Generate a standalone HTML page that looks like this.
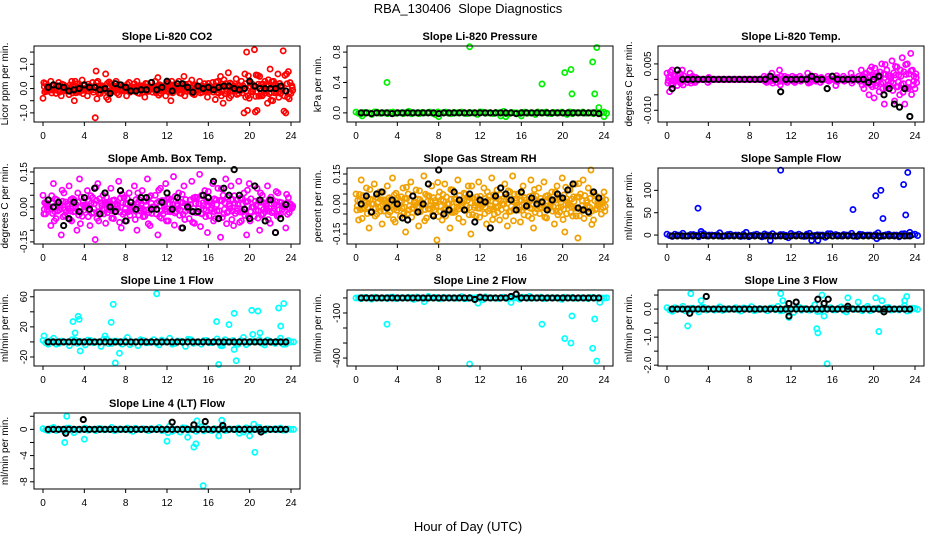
<!DOCTYPE html>
<html><head><meta charset="utf-8">
<style>
html,body{margin:0;padding:0;background:#fff;}
svg{display:block;font-family:"Liberation Sans",sans-serif;}
</style></head>
<body>
<svg id="chart" width="936" height="540" viewBox="0 0 936 540">
<text x="468" y="13" text-anchor="middle" font-size="13">RBA_130406&#160; Slope Diagnostics</text>
<text x="468" y="531" text-anchor="middle" font-size="13">Hour of Day (UTC)</text>
</svg>
<script>
// ---- data ----
const xTicks = [0,4,8,12,16,20,24];
const co2Color = [-0.4,0.2,-0.1,0.3,0.1,-0.2,0.25,-0.3,0.15,0.05,-0.25,0.3,-0.5,0.2,-0.15,0.35,0.0,-0.3,0.1,0.25,-1.2,0.3,-0.2,0.1,0.6,-0.45,0.2,-0.1,0.3,-0.25,0.15,0.05,-0.3,0.25,-0.1,0.2,0.3,-0.2,0.1,-0.35,0.2,0.05,-0.15,0.3,0.45,-0.2,0.1,-0.3,0.25,-0.5,0.15,0.0,0.3,-0.2,0.5,-0.1,0.2,0.35,-0.25,0.1,0.3,-0.15,0.2,-0.35,0.1,0.25,-0.45,0.3,0.5,-0.6,0.2,0.65,-0.3,0.1,0.4,-0.2,0.3,-1.0,1.5,-0.4,0.2,1.6,-0.9,0.5,-0.3,0.3,-0.6,0.8,-0.5,0.2,0.6,-0.2,1.55,-1.0,0.7,-0.2];
const co2Black = [0.05,0.15,0.1,0.05,-0.1,-0.05,0.0,0.15,0.05,0.05,-0.05,0.0,-0.2,0.2,0.15,0.05,-0.1,-0.1,-0.05,-0.05,0.25,-0.05,0.05,0.3,-0.1,0.2,0.2,0.05,-0.15,0.1,0.0,0.05,-0.05,0.05,0.1,0.1,0.0,-0.05,0.0,0.3,0.1,0.0,0.0,0.0,0.0,0.1,-0.1];

const presColor = [0.01,-0.01,0.0,-0.02,0.01,0.0,-0.01,0.01,0.0,-0.01,0.02,0.0,-0.01,0.0,0.01,-0.02,0.0,0.01,-0.01,0.0,0.01,-0.01,0.0,-0.02,0.01,0.0,-0.01,0.0,0.02,-0.01,0.0,-0.01,0.01,0.0,-0.02,0.0,0.01,-0.01,0.0,0.01,-0.02,-0.01,0.0,0.01,0.0,-0.01,0.0,0.01];
const presOutX = [3,11,14,18,20.2,20.8,20.9,22.9,23.1,23.3,23.5,24,8,14.5,16,0.6];
const presOutY = [0.4,0.87,-0.04,0.38,0.53,0.57,0.25,0.67,0.25,0.86,0.07,-0.05,-0.05,-0.05,-0.04,-0.04];
const presBlack = [0,0,-0.01,0,0,0,-0.01,0,0,0,0,0,0,0,0,-0.01,0,0,0,0,0,0,0,0,0,0,0,0,0,0,-0.01,0,0,0,0,0,0,0,0,0,0,0,0,0,0,0,-0.01];

const tempColor = [0.002,-0.004,0.003,0.001,-0.002,0.002,0.003,0.0,-0.001,0.002,0.001,-0.001,0.0,0.0,0.0,0.0,-0.001,0.0,0.0,0.0,0.0,0.0,0.0,0.0,0.0,0.0,0.0,0.0,0.0,0.0,0.0,0.0,0.0,0.0,0.0,0.0,0.0,0.0,0.001,-0.001,0.001,0.002,0.0,-0.001,0.003,0.0,0.001,-0.001,0.0,0.001,-0.001,0.0,0.001,0.0,0.0,0.002,-0.001,0.0,0.001,0.0,-0.001,0.0,0.0,0.001,0.0,0.0,-0.002,0.0,0.0,0.001,0.0,0.0,0.002,0.0,0.0,0.001,0.003,-0.003,0.002,-0.005,0.004,-0.006,0.002,-0.004,0.005,-0.008,0.003,-0.002,0.006,-0.007,0.004,-0.005,0.007,-0.008,0.005,-0.014,0.003,-0.003];
const tempBlack = [-0.003,0.003,0.0,0.0,0.0,0.0,0.0,0.0,0.0,0.0,0.0,0.0,0.0,0.0,0.0,0.0,0.0,0.0,0.0,0.001,0.0,-0.004,0.0,0.0,0.0,0.0,0.0,0.001,0.0,0.0,-0.003,0.001,0.0,0.0,0.0,0.0,0.0,0.0,-0.001,0.0,0.001,-0.005,-0.003,-0.008,-0.009,-0.003,-0.012];

const ambColor = [0.05,-0.03,0.0,-0.08,0.1,-0.05,0.02,-0.12,0.06,-0.02,0.09,-0.06,0.03,-0.1,0.12,-0.04,0.0,0.07,-0.08,0.04,-0.14,0.1,-0.03,0.05,-0.07,0.02,0.08,-0.05,-0.02,0.11,-0.09,0.04,-0.06,0.06,-0.01,0.09,-0.1,0.03,0.07,-0.04,0.12,-0.08,0.0,0.05,-0.12,0.08,-0.03,0.1,-0.06,0.03,0.13,-0.02,0.06,-0.09,0.09,0.01,-0.05,0.11,-0.07,0.04,0.14,-0.03,0.07,-0.11,0.02,0.1,-0.05,0.08,-0.13,0.05,0.12,-0.02,0.09,-0.08,0.03,0.11,-0.06,0.06,-0.12,0.1,0.0,-0.04,0.08,-0.1,0.05,-0.02,0.09,-0.07,0.03,-0.11,0.06,-0.03,0.0,-0.09,0.04,0.01];
const ambBlack = [0.03,0.0,0.02,-0.08,-0.05,0.02,-0.02,0.04,-0.01,0.08,-0.03,0.06,0.0,-0.02,0.07,-0.06,0.02,-0.01,0.04,0.04,-0.01,-0.01,0.02,0.06,-0.01,0.04,-0.09,0.0,-0.02,-0.02,0.05,0.04,0.11,-0.05,0.08,0.05,0.16,0.05,-0.01,-0.05,0.09,0.03,-0.06,0.03,-0.11,-0.05,0.01];

const rhColor = [0.05,-0.08,0.12,-0.02,0.08,-0.12,0.0,0.1,-0.05,0.06,-0.1,0.02,0.09,-0.04,0.13,-0.09,0.03,-0.06,0.08,-0.14,0.05,0.11,-0.02,0.07,-0.11,0.01,0.14,-0.07,0.04,0.09,-0.03,-0.18,0.06,-0.08,0.1,0.0,-0.12,0.07,-0.04,0.12,0.02,-0.09,0.05,0.09,-0.15,0.03,-0.06,0.11,-0.01,0.08,-0.1,0.04,0.13,-0.05,0.07,-0.08,0.0,0.1,-0.11,0.06,0.14,-0.03,0.05,-0.09,0.09,0.02,-0.06,0.12,-0.12,0.04,0.08,-0.02,0.11,-0.07,0.03,0.06,-0.1,0.09,-0.04,0.13,-0.14,0.01,0.07,-0.06,0.1,-0.17,0.05,0.12,-0.03,0.08,0.17,-0.08,0.04,0.0,-0.05,0.06];
const rhBlack = [0.0,0.04,-0.04,0.05,0.06,-0.02,0.02,0.0,-0.07,-0.08,0.04,-0.04,0.0,0.1,-0.06,0.17,-0.05,-0.03,0.06,0.02,-0.03,0.05,-0.09,0.02,0.01,-0.12,0.04,0.08,0.05,0.02,-0.03,0.06,-0.01,0.03,0.0,0.01,-0.03,0.02,0.05,0.03,0.07,0.1,-0.02,-0.03,-0.04,0.06,0.03];

const sampColor = [2,-3,0,4,-2,1,-4,3,0,-1,5,-2,2,0,-3,6,-1,2,-4,0,3,-2,1,-6,0,2,-3,4,-1,0,-5,3,1,-2,0,4,-3,1,0,-2,5,-1,2,0,-4,3,-1,2];
const sampOutX = [3,11,18,20.2,20.7,20.9,22.9,23.1,23.3,20.3,10,14,14.6,3.3,23.5];
const sampOutY = [60,145,57,88,100,37,113,45,140,-8,-12,-12,-12,8,6];
const sampBlack = [-2,-2,-2,-2,-2,-2,-1,-2,-2,-2,-2,-2,-2,-2,-2,-2,-2,-2,-2,-2,-2,-2,-3,-2,-2,-2,-2,-2,-2,-2,-2,-2,-2,-2,-2,-2,-2,-2,-2,-2,-2,-2,-2,-2,-2,-2,-2];

const l1Color = [2,-3,5,-2,0,-5,3,1,-4,2,0,-6,4,-2,1,-3,6,0,-5,2,-1,3,-4,0,5,-2,1,-6,3,0,-3,2,-1,4,-5,0,2,-3,6,-1,0,3,-4,1,-2,5,-3,0];
const l1OutX = [2.9,3.1,3.4,3.5,3.6,6.6,6.8,7,7.4,11,16.8,17,17.2,18,18.5,18.7,18.5,20.2,20.3,20.8,21,22.8,23,23.3,6,0.1];
const l1OutY = [27,12,34,30,-12,26,50,-28,-15,64,27,-30,-5,23,38,-25,-10,42,10,41,12,45,21,51,8,8];
const l1Black = [0,0,0,0,0,0,0,0,0,0,0,0,0,0,0,0,0,0,0,0,0,0,0,0,0,0,0,0,0,0,0,0,0,0,0,0,0,0,0,0,0,0,0,0,0,0,0];

const l2Color = [0,-5,3,-8,2,0,-4,6,-2,0,5,-10,1,-3,0,4,-6,2,0,-2,8,-5,0,3,-12,1,0,-4,5,-2,0,-8,3,0,-1,6,-3,0,2,-9,0,4,-2,0,-5,3,0,-1];
const l2OutX = [3,11,18,20.2,20.8,20.9,22.9,23.1,23.3,23.6,15,7,3.3,6.6,16.8,11.8];
const l2OutY = [-175,-440,-175,-270,-300,-120,-335,-140,-420,-30,-30,10,5,-25,10,-35];
const l2Black = [0,0,0,0,0,0,0,0,0,0,0,0,0,0,0,0,0,0,0,0,0,0,-10,5,0,0,0,0,0,10,25,0,0,0,0,0,0,0,0,0,0,0,0,0,0,0,0];

const l3Color = [0.05,-0.08,0.0,0.1,-0.05,0.03,-0.1,0.06,0.0,-0.04,0.08,-0.02,0.0,0.05,-0.07,0.02,0.09,-0.03,0.0,-0.06,0.04,0.1,-0.05,0.0,-0.12,0.07,0.02,-0.04,0.15,-0.08,0.0,0.05,-0.03,0.08,-0.1,0.02,0.0,-0.06,0.1,-0.02,0.04,-0.08,0.06,0.0,-0.03,0.12,-0.05,0.02];
const l3OutX = [2.3,2,3.3,11,11.2,12.5,14.5,14.6,15,15.5,17.5,20.2,20.5,20.8,23.2,23,11.8,15.2,18.5];
const l3OutY = [0.55,-0.6,0.3,0.55,0.3,0.25,-0.7,-0.85,0.5,-1.95,0.4,0.4,-0.8,0.3,0.45,0.3,-0.3,-0.25,0.25];
const l3BlackX = [3.8,2.2,11.8,11.8,14.6,15.2,15.6,17.5,21,12.5];
const l3BlackY = [0.45,-0.15,0.2,-0.25,0.35,0.2,0.35,0.1,-0.1,0.25];
const l3Black = [0,0,0,0,0,0,0,0,0,0,0,0,0,0,0,0,0,0,0,0,0,0,0,0,0,0,0,0,0,0,0,0,0,0,0,0,0,0,0,0,0,0,0,0,0,0,0];

const l4Color = [0.1,-0.2,0.3,0.0,-0.3,0.2,0.0,-0.1,0.2,0.0,-0.2,0.1,0.0,0.3,-0.1,0.0,0.2,-0.3,0.0,0.1,-0.2,0.0,0.3,-0.1,0.5,0.0,-0.4,0.2,0.0,-0.3,0.4,0.1,-0.2,0.0,0.3,-0.1,0.0,0.2,-0.4,0.1,0.0,0.3,-0.2,0.0,0.1,0.2,-0.1,0.0];
const l4OutX = [2.3,2.1,4,3,12,14,14.6,14.8,15.5,14.9,17,17.3,20,20.5,20.4,19,12.1];
const l4OutY = [2,-2,-1.5,-0.5,-1.8,-1.2,-2.7,-2.2,-8.6,1.3,-1,1.4,-1,-3.5,0.8,-0.6,-0.5];
const l4BlackX = [2.2,3.9,12.5,14.6,15.7,17.4,21.1];
const l4BlackY = [-0.6,1.5,1.1,0.7,1.2,0.6,-0.4];
const l4Black = [0,0,0,0,0,0,0,0,0,0,0,0,0,0,0,0,0,0,0,0,0,0,0,0,0,0,0,0,0,0,0,0,0,0,0,0,0,0,0,0,0,0,0,0,0,0,0];

// ---- drawing ----
const NS = 'http://www.w3.org/2000/svg';
const svg = document.getElementById('chart');
function mk(tag, attrs, parent){ const e=document.createElementNS(NS,tag); for(const k in attrs) e.setAttribute(k,attrs[k]); (parent||svg).appendChild(e); return e; }

function panel(p){
  const L=p.L, T=p.T, W=266, H=76;
  const g = mk('g',{});
  
  
  const xs = v => L + 9 + v*(248/24);
  const ys = v => T + H - (v - p.ymin)/(p.ymax - p.ymin)*H;
  const t = mk('text',{x:L+W/2,y:T-6,'text-anchor':'middle','font-size':'11','font-weight':'bold'},g);
  t.textContent = p.title;
  
  
  xTicks.forEach(v=>{
    mk('line',{x1:xs(v),x2:xs(v),y1:T+H,y2:T+H+4,stroke:'#000','stroke-width':1},g);
    const tx = mk('text',{x:xs(v),y:T+H+17,'text-anchor':'middle','font-size':'10'},g);
    tx.textContent = v;
    
    
  });
  mk('line',{x1:xs(0),x2:xs(24),y1:T+H,y2:T+H,stroke:'#000'},g);
  p.yticks.forEach((v,i)=>{
    mk('line',{x1:L-4,x2:L,y1:ys(v),y2:ys(v),stroke:'#000'},g);
    if(p.ylabels[i]!==''){
      const ty = mk('text',{x:L-7,y:ys(v),'text-anchor':'middle','font-size':'10',transform:`rotate(-90 ${L-7} ${ys(v)})`},g);
      ty.textContent = p.ylabels[i];
      
      
    }
  });
  mk('line',{x1:L,x2:L,y1:ys(p.yticks[0]),y2:ys(p.yticks[p.yticks.length-1]),stroke:'#000'},g);
  const yt = mk('text',{x:L-26,y:T+H/2,'text-anchor':'middle','font-size':'10',transform:`rotate(-90 ${L-26} ${T+H/2})`},g);
  yt.textContent = p.ylab;
  
  
  function dot(x,y,c,w){
    if(y>p.ymax||y<p.ymin) return;
    const d = mk('circle',{cx:xs(x),cy:ys(y),r:2.6,fill:'none',stroke:c,'stroke-width':w},g);
    
    
  }
  const n = p.color.length, st = 24/(n-1);
  p.color.forEach((v,i)=>{
    dot(i*st, v, p.c, 1.7);
    if(p.dense){
      dot(i*st+st*0.33, -v*0.6, p.c, 1.7);
      dot(i*st+st*0.66, v*0.35, p.c, 1.7);
      dot(i*st+st*0.5, -v*0.2, p.c, 1.7);
    } else {
      dot(i*st+st/2, -v*0.6, p.c, 1.7);
    }
  });
  (p.outX||[]).forEach((x,i)=>dot(x,p.outY[i],p.c,1.7));
  p.black.forEach((v,i)=>dot((i+1)*0.5, v, '#000', 2));
  (p.bx||[]).forEach((x,i)=>dot(x,p.by[i],'#000',2));
  const box = mk('rect',{x:L,y:T,width:W,height:H,fill:'none',stroke:'#000','stroke-width':1},g);
  
  
}

const C1=34,C2=347,C3=658,R1=46,R2=168,R3=290,R4=413;
panel({name:'panel-co2',title:'Slope Li-820 CO2',L:C1,T:R1,ymin:-1.375,ymax:1.75,yticks:[-1,-0.5,0,0.5,1,1.5],ylabels:['-1.0','','0.0','','1.0',''],ylab:'Licor ppm per min.',c:'#ff0000',dense:true,color:co2Color,black:co2Black});
panel({name:'panel-pressure',title:'Slope Li-820 Pressure',L:C2,T:R1,ymin:-0.12,ymax:0.88,yticks:[0,0.2,0.4,0.6,0.8],ylabels:['0.0','','0.4','','0.8'],ylab:'kPa per min.',c:'#00ee00',color:presColor,outX:presOutX,outY:presOutY,black:presBlack});
panel({name:'panel-li820-temp',title:'Slope Li-820 Temp.',L:C3,T:R1,ymin:-0.0138,ymax:0.0108,yticks:[-0.01,-0.005,0,0.005],ylabels:['-0.010','','','0.005'],ylab:'degrees C per min.',c:'#ff00ff',dense:true,color:tempColor,black:tempBlack});
panel({name:'panel-amb-box-temp',title:'Slope Amb. Box Temp.',L:C1,T:R2,ymin:-0.159,ymax:0.167,yticks:[-0.15,-0.1,-0.05,0,0.05,0.1,0.15],ylabels:['-0.15','','','0.00','','','0.15'],ylab:'degrees C per min.',c:'#ff00ff',dense:true,color:ambColor,black:ambBlack});
panel({name:'panel-gas-stream-rh',title:'Slope Gas Stream RH',L:C2,T:R2,ymin:-0.2,ymax:0.18,yticks:[-0.15,-0.1,-0.05,0,0.05,0.1,0.15],ylabels:['-0.15','','','0.00','','','0.15'],ylab:'percent per min.',c:'#f0a000',dense:true,color:rhColor,black:rhBlack});
panel({name:'panel-sample-flow',title:'Slope Sample Flow',L:C3,T:R2,ymin:-20,ymax:150,yticks:[0,50,100],ylabels:['0','50','100'],ylab:'ml/min per min.',c:'#0000ff',color:sampColor,outX:sampOutX,outY:sampOutY,black:sampBlack});
panel({name:'panel-line1-flow',title:'Slope Line 1 Flow',L:C1,T:R3,ymin:-32,ymax:69,yticks:[-20,0,20,40,60],ylabels:['-20','','20','','60'],ylab:'ml/min per min.',c:'#00ffff',color:l1Color,outX:l1OutX,outY:l1OutY,black:l1Black});
panel({name:'panel-line2-flow',title:'Slope Line 2 Flow',L:C2,T:R3,ymin:-453,ymax:53,yticks:[-400,-300,-200,-100,0],ylabels:['-400','','','-100',''],ylab:'ml/min per min.',c:'#00ffff',color:l2Color,outX:l2OutX,outY:l2OutY,black:l2Black});
panel({name:'panel-line3-flow',title:'Slope Line 3 Flow',L:C3,T:R3,ymin:-2.03,ymax:0.68,yticks:[-2,-1.5,-1,-0.5,0,0.5],ylabels:['-2.0','','-1.0','','0.0',''],ylab:'ml/min per min.',c:'#00ffff',color:l3Color,outX:l3OutX,outY:l3OutY,black:l3Black,bx:l3BlackX,by:l3BlackY});
panel({name:'panel-line4-flow',title:'Slope Line 4 (LT) Flow',L:C1,T:R4,ymin:-9.1,ymax:2.5,yticks:[-8,-6,-4,-2,0,2],ylabels:['-8','','-4','','0',''],ylab:'ml/min per min.',c:'#00ffff',color:l4Color,outX:l4OutX,outY:l4OutY,black:l4Black,bx:l4BlackX,by:l4BlackY});
</script>
</body></html>
